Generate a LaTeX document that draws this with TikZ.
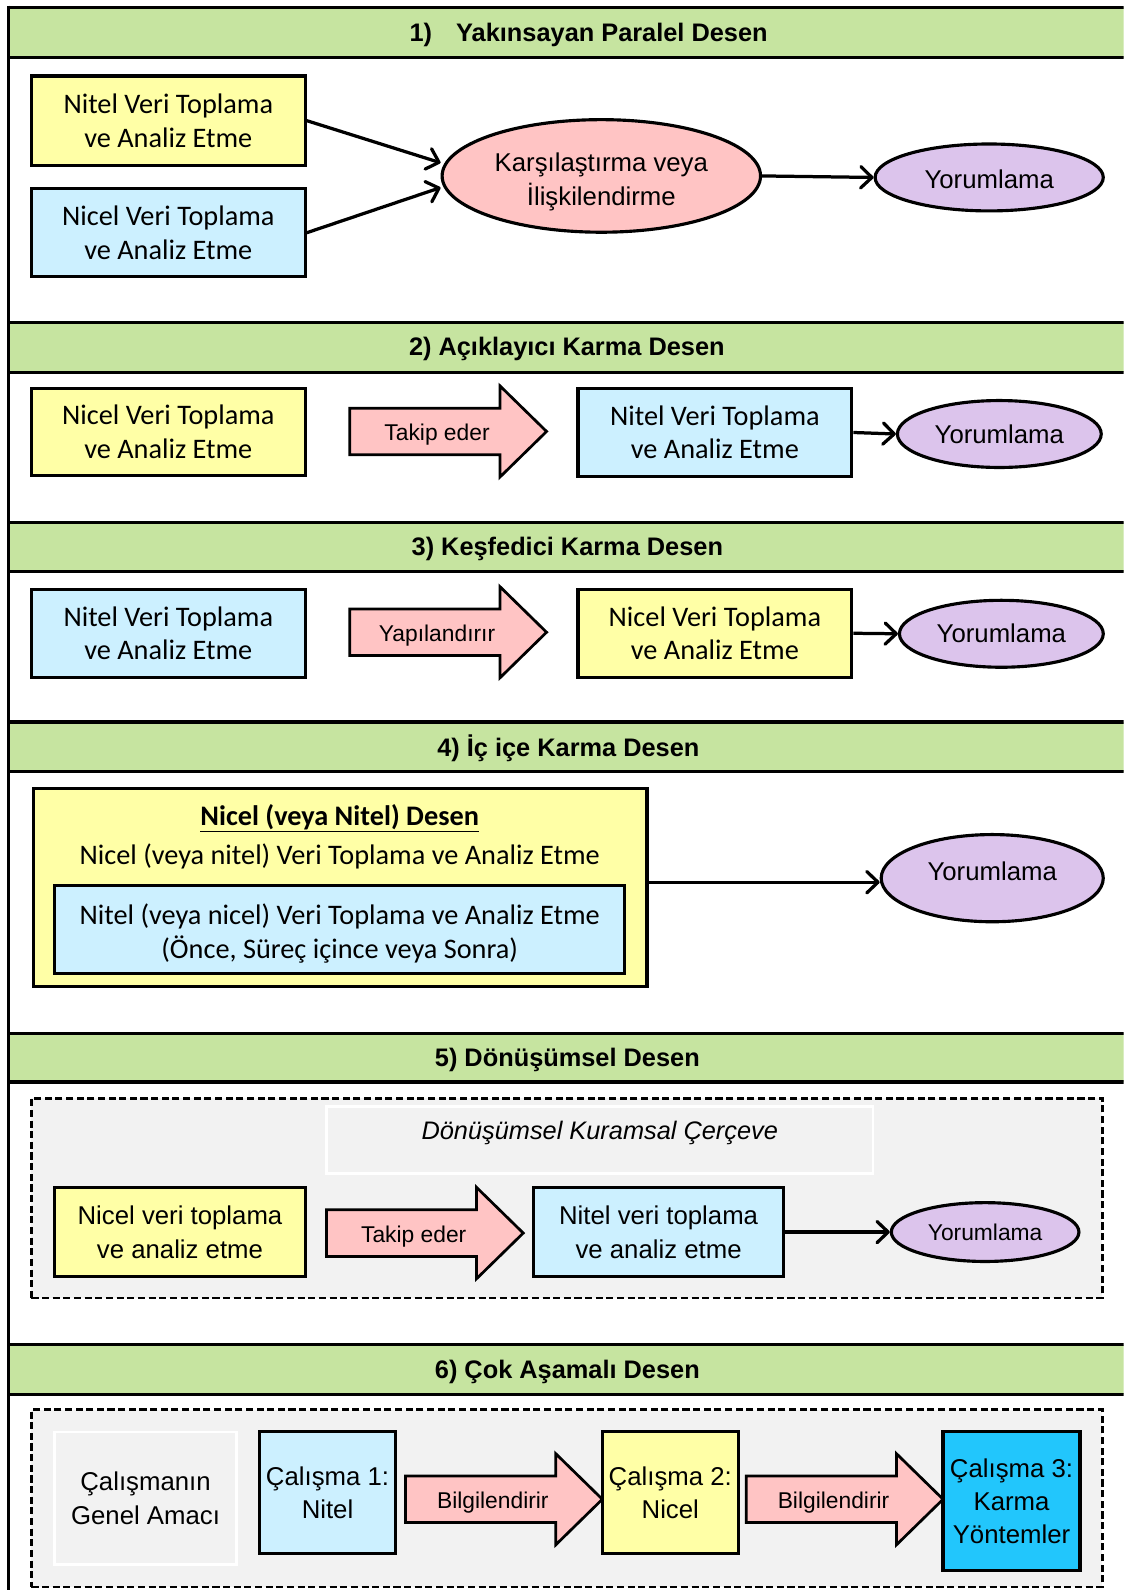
\documentclass[tikz,border=0pt]{standalone}
\usepackage{fontspec}
\setmainfont{Carlito}
\newfontfamily\arialf{Liberation Sans}
\usetikzlibrary{arrows.meta,shapes.geometric}

\definecolor{hdrgreen}{RGB}{198,228,160}
\definecolor{boxyellow}{RGB}{255,255,166}
\definecolor{boxblue}{RGB}{204,240,255}
\definecolor{boxpink}{RGB}{255,196,196}
\definecolor{boxlilac}{RGB}{220,196,236}
\definecolor{boxgrey}{RGB}{242,242,242}
\definecolor{boxcyan}{RGB}{34,198,252}

\tikzset{
  pics/fatarrow/.style={code={
    \path[blockarr] (0,-23) -- (148,-23) -- (148,-45) -- (194,0) -- (148,45) -- (148,23) -- (0,23) -- cycle;
    \node[alabel] (-lbl) at (86,3.5) {#1};
  }}
}

\begin{document}
\begin{tikzpicture}[x=1pt, y=-1pt,
    hdr/.style={draw=black, line width=3.1pt, fill=hdrgreen},
    htext/.style={font=\arialf\bfseries\fontsize{25}{30}\selectfont, inner sep=0pt},
    boxbase/.style={rectangle, draw=black, line width=3.1pt, inner sep=0pt, align=center, font=\fontsize{27.9}{33}\selectfont},
    yelbox/.style={boxbase, fill=boxyellow},
    blubox/.style={boxbase, fill=boxblue},
    cyanbox/.style={boxbase, fill=boxcyan},
    greybox/.style={rectangle, draw=white, line width=2.6pt, fill=boxgrey, inner sep=0pt, align=center},
    arfont/.style={font=\arialf\fontsize{25.4}{33}\selectfont},
    yorum/.style={ellipse, draw=black, line width=3.1pt, fill=boxlilac, inner sep=0pt, arfont},
    cmpnode/.style={ellipse, draw=black, line width=3.1pt, fill=boxpink, inner sep=0pt, align=center, arfont},
    link/.style={-{Straight Barb[length=11pt,width=21pt,round]}, line width=3.2pt},
    blockarr/.style={draw=black, line width=2.7pt, fill=boxpink},
    alabel/.style={inner sep=0pt, font=\arialf\fontsize{22.5}{27}\selectfont},
    dframe/.style={draw=black, line width=2.7pt, dash pattern=on 7pt off 3.5pt, fill=boxgrey},
    intext/.style={inner sep=0pt, align=center},
]
\useasboundingbox (0,0) rectangle (1108,1568);
\clip (0,0) rectangle (1108,1568);
\fill[white] (0,0) rectangle (1108,1568);

% section headers
\draw[hdr] (8,7) rectangle (1130,57);
\draw[hdr] (8,318) rectangle (1130,367);
\draw[hdr] (8,515) rectangle (1130,564);
\draw[hdr] (8,712) rectangle (1130,761);
\draw[hdr] (8,1019) rectangle (1130,1067);
\draw[hdr] (8,1326) rectangle (1130,1375);
\draw[line width=3.1pt] (8,5.5) -- (8,1575);
\node[htext] (h1) at (580.5,34) {1)\hspace{0.95em}Yakınsayan Paralel Desen};
\node[htext] (h2) at (559,344.5) {2) Açıklayıcı Karma Desen};
\node[htext] (h3) at (559.5,541.5) {3) Keşfedici Karma Desen};
\node[htext] (h4) at (560.5,738) {4) İç içe Karma Desen};
\node[htext] (h5) at (559.5,1045) {5) Dönüşümsel Desen};
\node[htext] (h6) at (559.5,1352.5) {6) Çok Aşamalı Desen};

% 1) convergent parallel
\node[yelbox, minimum width=270pt, minimum height=88pt] (nit1) at (166,119) {Nitel Veri Toplama\\ve Analiz Etme};
\node[blubox, minimum width=270pt, minimum height=87pt] (nic1) at (166,229.5) {Nicel Veri Toplama\\ve Analiz Etme};
\node[cmpnode, minimum width=314pt, minimum height=111pt,
  label={[intext, arfont, yshift=-6pt]center:Karşılaştırma veya\\İlişkilendirme}] (cmp1) at (593,173.5) {};
\node[yorum, minimum width=225pt, minimum height=66pt,
  label={[intext, arfont, yshift=-2pt]center:Yorumlama}] (yor1) at (975.5,175) {};
\draw[link] (nit1.east) -- ([yshift=13pt]cmp1.west);
\draw[link] (nic1.east) -- ([yshift=-11.5pt]cmp1.west);
\draw[link] (cmp1.east) -- (yor1.west);

% 2) explanatory
\node[yelbox, minimum width=270pt, minimum height=86pt] (nic2) at (166,426) {Nicel Veri Toplama\\ve Analiz Etme};
\pic (tak2) at (345,425.5) {fatarrow={Takip eder}};
\node[blubox, minimum width=270pt, minimum height=87pt] (nit2) at (705,426.5) {Nitel Veri Toplama\\ve Analiz Etme};
\node[yorum, minimum width=201pt, minimum height=66pt] (yor2) at (985.5,428) {Yorumlama};
\draw[link] (nit2.east) -- (yor2.west);

% 3) exploratory
\node[blubox, minimum width=270pt, minimum height=87pt] (nit3) at (166,624.5) {Nitel Veri Toplama\\ve Analiz Etme};
\pic (yap3) at (345,623.5) {fatarrow={Yapılandırır}};
\node[yelbox, minimum width=270pt, minimum height=87pt] (nic3) at (705,624.5) {Nicel Veri Toplama\\ve Analiz Etme};
\node[yorum, minimum width=201pt, minimum height=66pt] (yor3) at (987.5,625) {Yorumlama};
\draw[link] (nic3.east) -- (yor3.west);

% 4) embedded
\node[yelbox, minimum width=605pt, minimum height=195pt] (emb4) at (335.5,875.5) {};
\node[inner sep=0pt, font=\bfseries\fontsize{27.9}{33}\selectfont] (emt4) at (335,807) {\underline{Nicel (veya Nitel) Desen}};
\node[inner sep=0pt, font=\fontsize{27.9}{33}\selectfont] (ems4) at (335,845) {Nicel (veya nitel) Veri Toplama ve Analiz Etme};
\node[blubox, minimum width=562pt, minimum height=87pt,
  label={[intext, font=\fontsize{27.9}{33}\selectfont, yshift=-4pt]center:Nitel (veya nicel) Veri Toplama ve Analiz Etme\\(Önce, Süreç içince veya Sonra)}] (inn4) at (335,916.5) {};
\node[yorum, minimum width=219pt, minimum height=86pt,
  label={[intext, arfont, yshift=7pt]center:Yorumlama}] (yor4) at (978.5,866) {};
\draw[link] ([yshift=5.5pt]emb4.east) -- ([yshift=-4pt]yor4.west);

% 5) transformative
\node[dframe, minimum width=1056pt, minimum height=197pt, inner sep=0pt] (frm5) at (559,1181.5) {};
\node[greybox, minimum width=539pt, minimum height=66pt,
  label={[intext, font=\arialf\itshape\fontsize{25}{33}\selectfont, yshift=7pt]center:Dönüşümsel Kuramsal Çerçeve}] (kur5) at (591.5,1124) {};
\node[yelbox, minimum width=247pt, minimum height=88pt, arfont] (nic5) at (177.5,1215) {Nicel veri toplama\\ve analiz etme};
\pic (tak5) at (322,1216) {fatarrow={Takip eder}};
\node[blubox, minimum width=247pt, minimum height=88pt, arfont] (nit5) at (649.5,1215) {Nitel veri toplama\\ve analiz etme};
\node[yorum, minimum width=185pt, minimum height=58pt, font=\arialf\fontsize{22.5}{27}\selectfont] (yor5) at (971.5,1215) {Yorumlama};
\draw[link] (nit5.east) -- (yor5.west);

% 6) multiphase
\node[dframe, minimum width=1056pt, minimum height=175pt, inner sep=0pt] (frm6) at (559,1477.5) {};
\node[greybox, minimum width=179pt, minimum height=131pt, arfont] (amc6) at (143.5,1477.5) {Çalışmanın\\Genel Amacı};
\node[blubox, minimum width=134pt, minimum height=120pt, arfont] (cal1) at (323,1472) {Çalışma 1:\\Nitel};
\pic (bil1) at (400,1478.5) {fatarrow={Bilgilendirir}};
\node[yelbox, minimum width=134pt, minimum height=120pt, arfont] (cal2) at (661,1472) {Çalışma 2:\\Nicel};
\pic (bil2) at (736,1478.5) {fatarrow={Bilgilendirir}};
\node[cyanbox, minimum width=135pt, minimum height=137pt, arfont] (cal3) at (997.5,1480.5) {Çalışma 3:\\Karma\\Yöntemler};
\end{tikzpicture}
\end{document}
